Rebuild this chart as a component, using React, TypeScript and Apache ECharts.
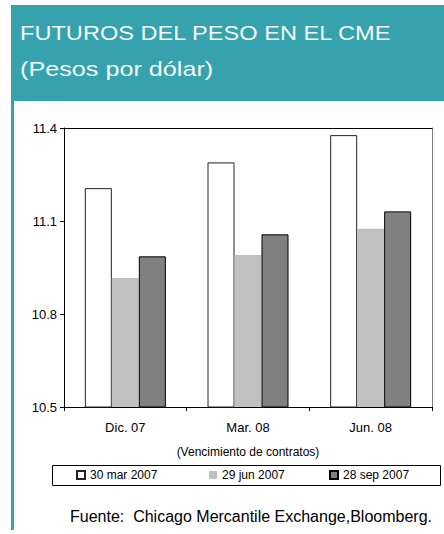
import React, { useEffect, useRef } from "react";
import * as echarts from "echarts";

const categories = ["Dic. 07", "Mar. 08", "Jun. 08"];
const seriesNames = ["30 mar 2007", "29 jun 2007", "28 sep 2007"];
const mar2007 = [11.206, 11.289, 11.377];
const jun2007 = [10.916, 10.99, 11.075];
const sep2007 = [10.986, 11.057, 11.131];
const yMin = 10.5;
const yMax = 11.4;
const yInterval = 0.3;

const FONT = "'Liberation Sans', Arial, sans-serif";
const TEAL = "#35a2ae";

export default function App() {
  const ref = useRef<HTMLDivElement>(null);
  useEffect(() => {
    if (!ref.current) return;
    const chart = echarts.init(ref.current, null, { renderer: "svg" });
    const legendBase = {
      orient: "horizontal",
      top: 469,
      padding: 0,
      itemWidth: 8,
      itemHeight: 8,
      icon: "rect",
      selectedMode: false,
      textStyle: { fontFamily: FONT, fontSize: 12, color: "#000" },
    };
    chart.setOption({
      animation: false,
      backgroundColor: "#fff",
      textStyle: { fontFamily: FONT },
      grid: { left: 64, top: 128, right: 12, bottom: 127, containLabel: false },
      legend: [
        { ...legendBase, left: 76, data: [seriesNames[0]] },
        { ...legendBase, left: 209, data: [seriesNames[1]] },
        { ...legendBase, left: 329, data: [seriesNames[2]] },
      ],
      xAxis: [
        {
          type: "category",
          data: categories,
          position: "bottom",
          axisLine: { show: true, lineStyle: { color: "#000", width: 1 } },
          axisTick: { show: true, length: 4, lineStyle: { color: "#000" } },
          axisLabel: { fontFamily: FONT, fontSize: 13, color: "#000", margin: 14 },
          name: "(Vencimiento de contratos)",
          nameLocation: "middle",
          nameGap: 39,
          nameTextStyle: { fontFamily: FONT, fontSize: 12, color: "#000" },
        },
        {
          type: "category",
          data: categories,
          position: "top",
          axisLine: { show: true, lineStyle: { color: "#000", width: 1 } },
          axisTick: { show: false },
          axisLabel: { show: false },
        },
      ],
      yAxis: [
        {
          type: "value",
          min: yMin,
          max: yMax,
          interval: yInterval,
          position: "left",
          axisLine: { show: true, lineStyle: { color: "#000", width: 1 } },
          axisTick: { show: true, length: 4, lineStyle: { color: "#000" } },
          axisLabel: {
            fontFamily: FONT,
            fontSize: 13,
            color: "#000",
            margin: 7,
            formatter: (v: number) => v.toFixed(1),
          },
          splitLine: { show: false },
        },
        {
          type: "value",
          min: yMin,
          max: yMax,
          interval: yInterval,
          position: "right",
          axisLine: { show: true, lineStyle: { color: "#808080", width: 1 } },
          axisTick: { show: false },
          axisLabel: { show: false },
          splitLine: { show: false },
        },
      ],
      series: [
        {
          name: seriesNames[0],
          type: "bar",
          data: mar2007,
          barWidth: 27,
          barGap: "0%",
          itemStyle: { color: "#ffffff", borderColor: "#222", borderWidth: 1 },
        },
        {
          name: seriesNames[1],
          type: "bar",
          data: jun2007,
          barWidth: 27,
          barGap: "0%",
          itemStyle: { color: "#c0c0c0" },
        },
        {
          name: seriesNames[2],
          type: "bar",
          data: sep2007,
          barWidth: 27,
          barGap: "0%",
          itemStyle: { color: "#808080", borderColor: "#000", borderWidth: 1 },
        },
      ],
      graphic: [
        {
          type: "rect",
          shape: { x: 11, y: 5, width: 433, height: 96 },
          style: { fill: TEAL },
          z: 0,
        },
        {
          type: "rect",
          shape: { x: 11, y: 100, width: 3, height: 430 },
          style: { fill: TEAL },
          z: 0,
        },
        {
          type: "text",
          x: 20,
          y: 33,
          scaleX: 1.18,
          style: {
            text: "FUTUROS DEL PESO EN EL CME",
            fill: "#f4fafa",
            font: `20px ${FONT}`,
            textVerticalAlign: "middle",
          },
          z: 1,
        },
        {
          type: "text",
          x: 20,
          y: 69,
          scaleX: 1.26,
          style: {
            text: "(Pesos por dólar)",
            fill: "#f4fafa",
            font: `20px ${FONT}`,
            textVerticalAlign: "middle",
          },
          z: 1,
        },
        {
          type: "rect",
          shape: { x: 52.5, y: 465.5, width: 388, height: 20 },
          style: { fill: "none", stroke: "#000", lineWidth: 1 },
          z: 1,
        },
        {
          type: "text",
          x: 70,
          y: 516,
          style: {
            text: "Fuente:  Chicago Mercantile Exchange,Bloomberg.",
            fill: "#000",
            font: `16px ${FONT}`,
            textVerticalAlign: "middle",
          },
          z: 1,
        },
      ],
    });
    return () => chart.dispose();
  }, []);
  return (
    <div
      ref={ref}
      style={{ position: "fixed", left: 0, top: 0, width: 444, height: 534 }}
    />
  );
}
